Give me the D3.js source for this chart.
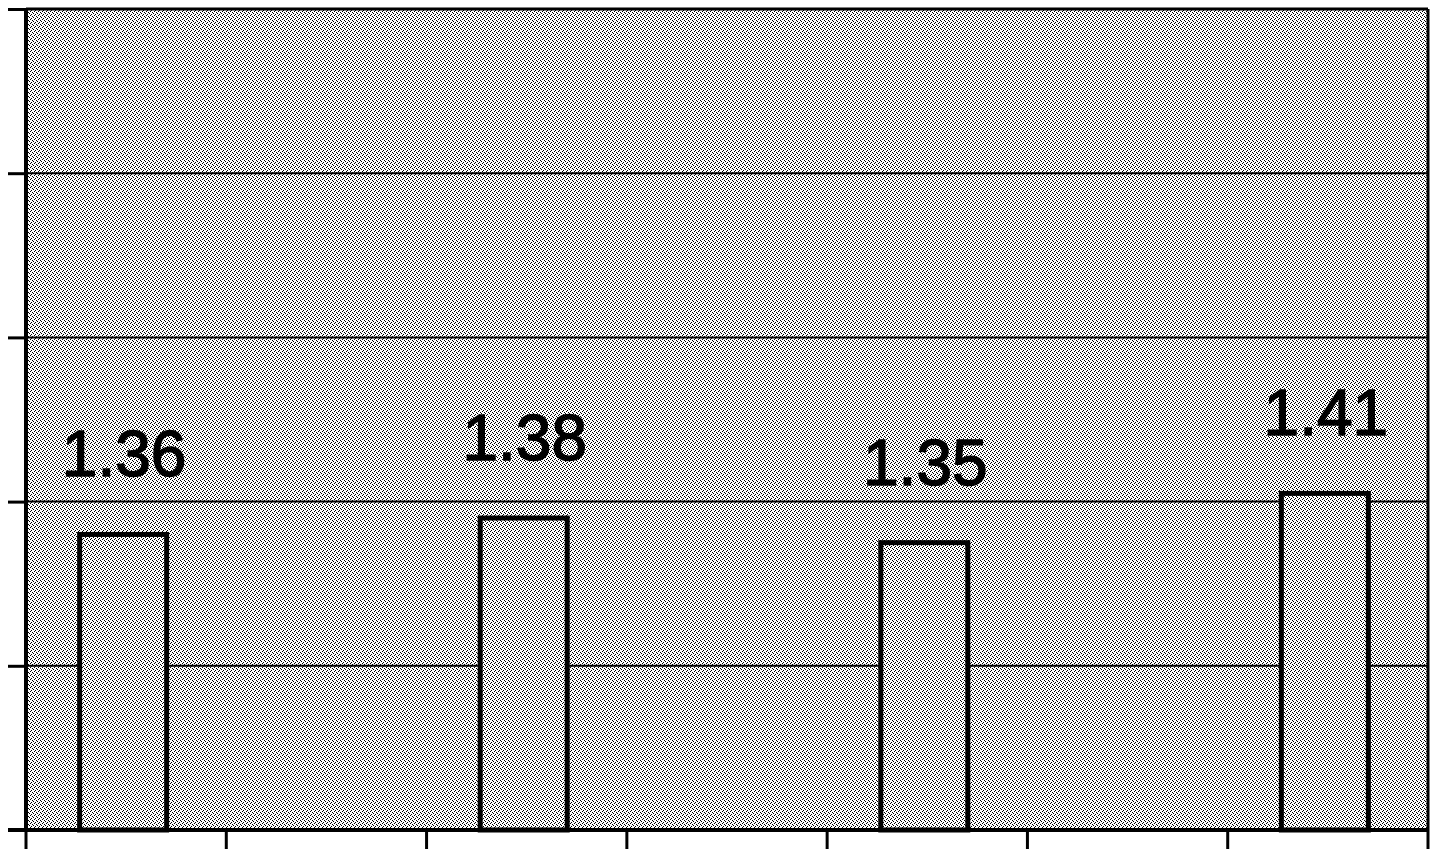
<!DOCTYPE html>
<html>
<head>
<meta charset="utf-8">
<script src="https://cdn.jsdelivr.net/npm/d3@7"></script>
<style>
  html, body { margin: 0; padding: 0; background: #fff; }
  svg { display: block; }
</style>
</head>
<body>
<svg id="chart" width="1440" height="856"></svg>
<script>
// ---- data ----
const categories = ["A", "B", "C", "D", "E", "F", "G"];
const values = [1.36, null, 1.38, null, 1.35, null, 1.41];
const labels = ["1.36", "", "1.38", "", "1.35", "", "1.41"];
const yTicks = [1.0, 1.2, 1.4, 1.6, 1.8, 2.0];

// ---- layout ----
const M = { left: 26, right: 1428, top: 9, bottom: 830 };

const svg = d3.select("#chart");

// dithered halftone pattern (diagonal texture)
const defs = svg.append("defs");
const pat = defs.append("pattern")
  .attr("id", "dither")
  .attr("patternUnits", "userSpaceOnUse")
  .attr("width", 4).attr("height", 4);
pat.append("rect").attr("width", 4).attr("height", 4).attr("fill", "#fff");
[[0,0,1,1],[1,1,1,1],[3,2,1,1],[2,3,1,1]].forEach(([px,py,w,h]) => {
  pat.append("rect").attr("x", px).attr("y", py).attr("width", w).attr("height", h)
    .attr("fill", "#000").attr("shape-rendering", "crispEdges");
});

const x = d3.scaleBand().domain(categories).range([M.left, M.right]).paddingInner(0).paddingOuter(0);
const y = d3.scaleLinear().domain([1.0, 2.0]).range([M.bottom, M.top]);

// plot background
svg.append("rect")
  .attr("x", M.left).attr("y", M.top)
  .attr("width", M.right - M.left).attr("height", M.bottom - M.top)
  .attr("fill", "url(#dither)");

// gridlines
svg.append("g").selectAll("line")
  .data(yTicks.filter(t => t > 1.0))
  .join("line")
  .attr("x1", M.left).attr("x2", M.right)
  .attr("y1", d => y(d)).attr("y2", d => y(d))
  .attr("stroke", "#000").attr("stroke-width", d => d === 2.0 ? 3 : 2);

// right border
svg.append("line")
  .attr("x1", M.right).attr("x2", M.right)
  .attr("y1", M.top).attr("y2", M.bottom)
  .attr("stroke", "#000").attr("stroke-width", 3);

// bars
const barW = 87;
const data = categories.map((c, i) => ({ c, v: values[i], label: labels[i] })).filter(d => d.v != null);

svg.append("g").selectAll("rect")
  .data(data)
  .join("rect")
  .attr("x", d => x(d.c) + x.bandwidth() / 2 - barW / 2 - 3)
  .attr("y", d => y(d.v))
  .attr("width", barW)
  .attr("height", d => M.bottom - y(d.v))
  .attr("fill", "url(#dither)")
  .attr("stroke", "#000")
  .attr("stroke-width", 5);

// value labels
svg.append("g").selectAll("text")
  .data(data)
  .join("text")
  .attr("x", d => x(d.c) + x.bandwidth() / 2 - 2)
  .attr("y", d => y(d.v) - 58)
  .attr("text-anchor", "middle")
  .attr("font-family", "Liberation Sans, Arial, sans-serif")
  .attr("font-size", 64)
  .attr("fill", "#000")
  .attr("stroke", "#000")
  .attr("stroke-width", 1.5)
  .text(d => d.label);

// y axis
const yAxis = d3.axisLeft(y).tickValues(yTicks).tickSize(18).tickFormat("");
const gy = svg.append("g").attr("transform", `translate(${M.left},0)`).call(yAxis);
gy.select(".domain").attr("stroke-width", 4).attr("d", `M0,${M.top - 1}V${M.bottom + 2}`);
gy.selectAll(".tick line").attr("stroke-width", 3);

// x axis with ticks at band boundaries
const edges = categories.map(c => x(c)).concat([M.right]);
const gx = svg.append("g");
gx.append("line")
  .attr("x1", M.left - 18).attr("x2", M.right)
  .attr("y1", M.bottom).attr("y2", M.bottom)
  .attr("stroke", "#000").attr("stroke-width", 4);
gx.selectAll("line.tk")
  .data(edges)
  .join("line")
  .attr("class", "tk")
  .attr("x1", d => d).attr("x2", d => d)
  .attr("y1", M.bottom).attr("y2", M.bottom + 19)
  .attr("stroke", "#000").attr("stroke-width", 3);
</script>
</body>
</html>
